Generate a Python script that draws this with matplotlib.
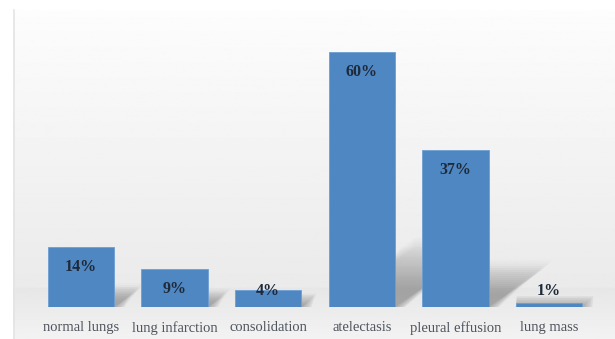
import matplotlib.pyplot as plt
import numpy as np
from matplotlib.patches import Polygon

# Imaging findings and their share of cases (%)
findings = ["normal lungs", "lung infarction", "consolidation",
            "atelectasis", "pleural effusion", "lung mass"]
percent = [14, 9, 4, 60, 37, 1]

bar_color = "#4f87c2"
label_color = "#4f555e"
value_color = "#1e2a3a"

fig = plt.figure(figsize=(6.15, 3.39), dpi=100)

# soft grey backdrop behind the plot
bg = fig.add_axes([0.021, 0.0, 0.979, 0.97], zorder=-10)
grad = np.linspace(0.99, 0.905, 256).reshape(-1, 1)
grad[-40:] = np.linspace(0.905, 0.95, 40).reshape(-1, 1)
bg.imshow(grad, aspect="auto", cmap="gray", vmin=0, vmax=1,
          extent=[0, 1, 0, 1])
bg.axis("off")
fig.add_artist(plt.Line2D([0.022, 0.022], [0.0, 0.97], color="#e4e4e4",
                          lw=1.2, transform=fig.transFigure))

ax = fig.add_axes([0.0, 0.0944, 1.0, 0.7522])
ax.set_facecolor("none")
x = np.arange(len(findings))
width = 0.71

# one pixel in data units along each axis
px_x = 6.57 / 615
px_y = 60 / 255

# blurred perspective drop shadows falling back to the right
for xi, v in zip(x, percent):
    left, right = xi - width / 2, xi + width / 2
    for k in np.linspace(1.0, 0.35, 5):
        dx = 0.0155 * v * k
        dy = 0.235 * v * k
        for m in range(0, 12, 2):
            ex, ey = m * px_x, m * px_y
            poly = Polygon([(left, 0), (right + ex, 0),
                            (right + dx + ex, dy + ey),
                            (left + dx, dy + ey)], closed=True,
                           facecolor="#505050", edgecolor="none",
                           alpha=0.016, zorder=1)
            ax.add_patch(poly)

bars = ax.bar(x, percent, width=width, color=bar_color,
              edgecolor="#6c9fd3", linewidth=0.6, zorder=3)

for xi, v in zip(x, percent):
    y = max(v - 4.7, 3.8)
    ax.text(xi, y, f"{v}%", ha="center", va="center", fontsize=11.5,
            fontweight="bold", family="Liberation Serif", color=value_color,
            zorder=4)

ax.set_xlim(-0.865, 5.705)
ax.set_ylim(0, 60)
ax.set_xticks(x)
ax.set_xticklabels(findings, family="Liberation Serif", fontsize=10.5,
                   color=label_color)
ax.tick_params(axis="x", length=0, pad=10)
ax.set_yticks([])
for s in ax.spines.values():
    s.set_visible(False)

fig.savefig("out.png", dpi=100)
